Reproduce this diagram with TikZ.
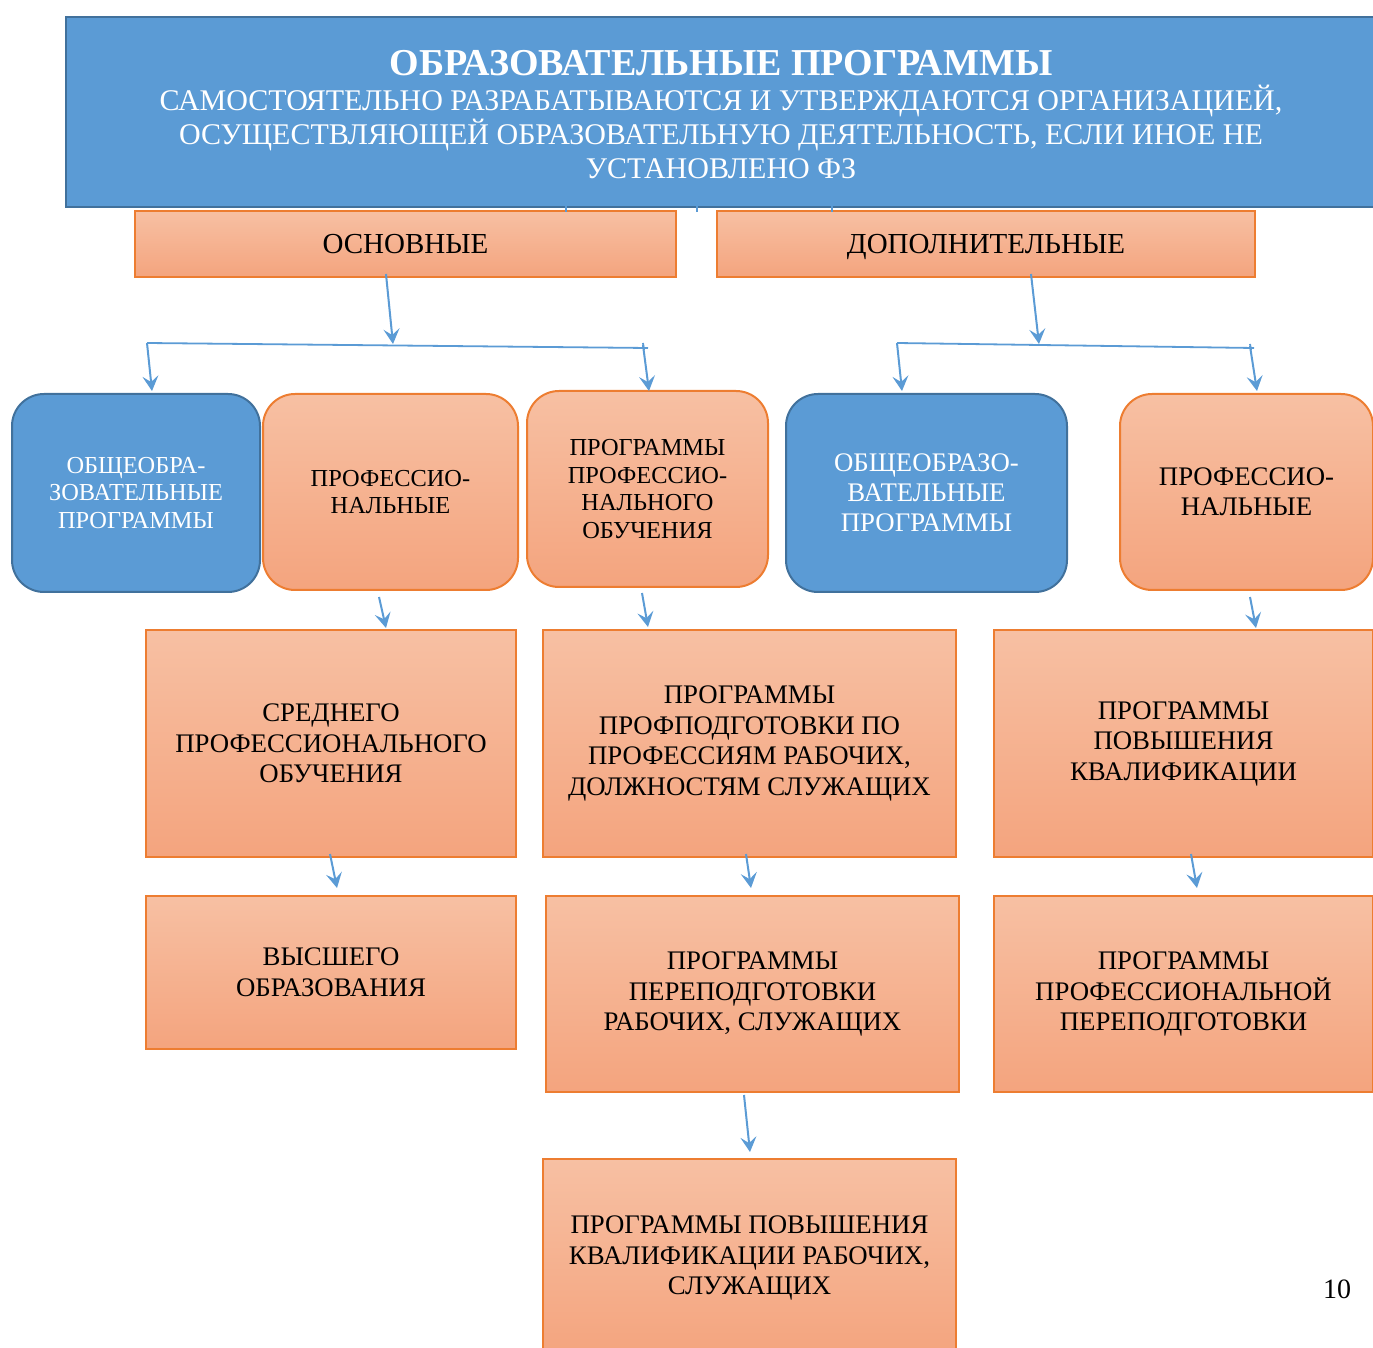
\documentclass[tikz,border=0pt]{standalone}
\usepackage{fontspec}
\setmainfont{Liberation Serif}
\usetikzlibrary{arrows.meta}
\definecolor{bfill}{HTML}{5B9BD5}
\definecolor{bline}{HTML}{41719C}
\definecolor{otop}{HTML}{F7C0A3}
\definecolor{obot}{HTML}{F4A47E}
\definecolor{oline}{HTML}{ED7D31}
\definecolor{arr}{HTML}{5B9BD5}
\newcommand\setfs[2]{\fontsize{#1}{#2}\selectfont}
\begin{document}
\begin{tikzpicture}[x=0.5pt,y=-0.5pt,
  base/.style={inner sep=0pt, align=center, line width=1pt},
  bluebox/.style={base, fill=bfill, draw=bline, text=white},
  orbox/.style={base, top color=otop, bottom color=obot, draw=oline, text=black},
  rnd/.style={rounded corners=16pt},
  conn/.style={draw=arr, line width=1pt, -{Stealth[length=7.5pt,width=8pt,inset=3pt]}},
  plainln/.style={draw=arr, line width=0.9pt},
  s2/.style={font=\setfs{12.2}{13.75}},
  s2b/.style={font=\setfs{13.4}{15}},
  s3/.style={font=\setfs{13.4}{15.25}},
]
\useasboundingbox (0,0) rectangle (1373,1348);

% top box
\node[bluebox, minimum width=655pt, minimum height=95pt] (top) at (721,112) {};
\node[inner sep=0pt, align=center, text=white, font=\setfs{15}{17}] (toptext) at (721,115)
 {{\setfs{19}{17}\bfseries ОБРАЗОВАТЕЛЬНЫЕ ПРОГРАММЫ}\\[0.5pt]
  САМОСТОЯТЕЛЬНО РАЗРАБАТЫВАЮТСЯ И УТВЕРЖДАЮТСЯ ОРГАНИЗАЦИЕЙ,\\
  ОСУЩЕСТВЛЯЮЩЕЙ ОБРАЗОВАТЕЛЬНУЮ ДЕЯТЕЛЬНОСТЬ, ЕСЛИ ИНОЕ НЕ\\
  УСТАНОВЛЕНО ФЗ};

% second level
\node[orbox, minimum width=270.5pt, minimum height=33pt, font=\setfs{14.5}{17}, text height=10pt, text depth=0pt] (osn) at (405.5,244) {ОСНОВНЫЕ};
\node[orbox, minimum width=269pt, minimum height=33pt, font=\setfs{14.5}{17}, text height=10pt, text depth=0pt] (dop) at (986,244) {ДОПОЛНИТЕЛЬНЫЕ};

% third level (rounded)
\node[bluebox, rnd, s2, minimum width=124pt, minimum height=99pt] (r2a) at (136,493) {ОБЩЕОБРА-\\ЗОВАТЕЛЬНЫЕ\\ПРОГРАММЫ};
\node[orbox, rnd, s2, minimum width=127.5pt, minimum height=98pt] (r2b) at (390.5,492) {ПРОФЕССИО-\\НАЛЬНЫЕ};
\node[orbox, rnd, s2, minimum width=120.5pt, minimum height=98pt] (r2c) at (647.5,489) {ПРОГРАММЫ\\ПРОФЕССИО-\\НАЛЬНОГО\\ОБУЧЕНИЯ};
\node[bluebox, rnd, s2b, minimum width=140.5pt, minimum height=99pt] (r2d) at (926.5,493) {ОБЩЕОБРАЗО-\\ВАТЕЛЬНЫЕ\\ПРОГРАММЫ};
\node[orbox, rnd, s2b, minimum width=126.5pt, minimum height=98pt] (r2e) at (1246.5,492) {ПРОФЕССИО-\\НАЛЬНЫЕ};

% fourth level
\node[orbox, s3, minimum width=185pt, minimum height=113.5pt] (r3a) at (331,743.5) {СРЕДНЕГО\\ПРОФЕССИОНАЛЬНОГО\\ОБУЧЕНИЯ};
\node[orbox, s3, minimum width=206.5pt, minimum height=113.5pt] (r3b) at (749.5,743.5) {ПРОГРАММЫ\\ПРОФПОДГОТОВКИ ПО\\ПРОФЕССИЯМ РАБОЧИХ,\\ДОЛЖНОСТЯМ СЛУЖАЩИХ};
\node[orbox, s3, minimum width=189.5pt, minimum height=113.5pt] (r3c) at (1183.5,743.5) {ПРОГРАММЫ\\ПОВЫШЕНИЯ\\КВАЛИФИКАЦИИ};

% fifth level
\node[orbox, s3, minimum width=185pt, minimum height=76.5pt] (r4a) at (331,972.5) {ВЫСШЕГО\\ОБРАЗОВАНИЯ};
\node[orbox, s3, minimum width=206.5pt, minimum height=98pt] (r4b) at (752.5,994) {ПРОГРАММЫ\\ПЕРЕПОДГОТОВКИ\\РАБОЧИХ, СЛУЖАЩИХ};
\node[orbox, s3, minimum width=189.5pt, minimum height=98pt] (r4c) at (1183.5,994) {ПРОГРАММЫ\\ПРОФЕССИОНАЛЬНОЙ\\ПЕРЕПОДГОТОВКИ};

% sixth level
\node[orbox, s3, minimum width=206.5pt, minimum height=99pt] (r5) at (749.5,1258) {ПРОГРАММЫ ПОВЫШЕНИЯ\\КВАЛИФИКАЦИИ РАБОЧИХ,\\СЛУЖАЩИХ};

% page number
\node[inner sep=0pt, font=\setfs{14}{17}] (pg) at (1337,1289) {10};

% small ticks under the top box
\foreach \x [count=\i] in {566,697,832} {
  \coordinate (tk\i a) at (\x,206);
  \coordinate (tk\i b) at (\x,212);
  \draw[plainln] (tk\i a) -- (tk\i b);
}

% connectors: left group
\coordinate (la) at (386,274); \coordinate (lb) at (393,344);
\coordinate (lh1) at (147,343); \coordinate (lh2) at (648,348);
\coordinate (lt1) at (643,343); \coordinate (lt2) at (644,350);
\coordinate (ld1) at (152,391); \coordinate (ls2) at (643,345); \coordinate (ld2) at (649,391);
\draw[conn] (la) -- (lb);
\draw[plainln] (lh1) -- (lh2);
\draw[plainln] (lt1) -- (lt2);
\draw[conn] (lh1) -- (ld1);
\draw[conn] (ls2) -- (ld2);

% connectors: right group
\coordinate (ra) at (1031,274); \coordinate (rb) at (1039,344);
\coordinate (rh1) at (897,343); \coordinate (rh2) at (1254,348);
\coordinate (rt1) at (1250,344); \coordinate (rt2) at (1251,350);
\coordinate (rd1) at (902,391); \coordinate (rs2) at (1250,346); \coordinate (rd2) at (1257,391);
\draw[conn] (ra) -- (rb);
\draw[plainln] (rh1) -- (rh2);
\draw[plainln] (rt1) -- (rt2);
\draw[conn] (rh1) -- (rd1);
\draw[conn] (rs2) -- (rd2);

% row 2 -> row 3
\coordinate (a1) at (379,597); \coordinate (b1) at (386,628);
\coordinate (a2) at (642,593); \coordinate (b2) at (648,627);
\coordinate (a3) at (1250,597); \coordinate (b3) at (1256,628);
\draw[conn] (a1) -- (b1);
\draw[conn] (a2) -- (b2);
\draw[conn] (a3) -- (b3);

% row 3 -> row 4
\coordinate (c1) at (330,854); \coordinate (d1) at (337,888);
\coordinate (c2) at (746,854); \coordinate (d2) at (751,888);
\coordinate (c3) at (1191,854); \coordinate (d3) at (1197,888);
\draw[conn] (c1) -- (d1);
\draw[conn] (c2) -- (d2);
\draw[conn] (c3) -- (d3);

% row 4 -> row 5
\coordinate (e1) at (744,1095); \coordinate (f1) at (750,1152);
\draw[conn] (e1) -- (f1);
\end{tikzpicture}
\end{document}
